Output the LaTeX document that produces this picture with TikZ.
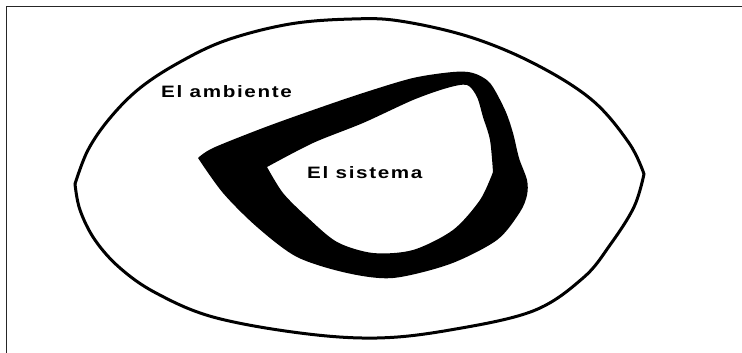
\documentclass[tikz,border=0pt]{standalone}
\usepackage{fontspec}
\setmainfont{Liberation Sans}
\begin{document}
\begin{tikzpicture}[x=1pt,y=-1pt,
  frameline/.style={line width=1.3pt,draw=black!85},
  eyeline/.style={line width=3pt,line join=round,line cap=round},
  lbl/.style={anchor=base west,inner sep=0pt,font=\fontsize{16.5}{18}\selectfont\bfseries}]
\useasboundingbox (0,0) rectangle (742,353);
\fill[white] (0,0) rectangle (742,353);
% frame (top and left edges only)
\coordinate (tl) at (6.5,6.5);
\coordinate (tr) at (742,6.5);
\coordinate (bl) at (6.5,353);
\draw[frameline] (tr) -- (tl) -- (bl);
% outer "environment" curve
\draw[eyeline] plot[smooth,tension=0.6] coordinates {(75,184) (88,150) (110,118) (140,88) (180,62) (227,40) (290,24) (352,19) (400,21) (470,37) (535,64) (592,100) (629,143) (644,174)};
\draw[eyeline] plot[smooth,tension=0.6] coordinates {(644,174) (634,207) (610,245) (583,278) (533,311) (450,330) (377,338) (300,333) (213,317) (156,293) (120,268) (95,240) (80,210) (75,184)};
% black system boundary band
\fill[black,even odd rule]
  plot[smooth,tension=0.5] coordinates {(198,158) (213,148) (263,128) (313,110) (363,93) (413,78) (453,72) (473,73) (490,83) (505,110) (513,133) (519,158) (527,180) (527,195) (520,212) (497,240) (450,264) (393,278) (347,273) (297,257) (257,227) (223,193) (198,158)} -- cycle
  plot[smooth,tension=0.5] coordinates {(267,167) (313,143) (363,123) (413,100) (447,88) (467,85) (477,97) (483,117) (490,140) (493,172)}
  -- plot[smooth,tension=0.5] coordinates {(493,172) (480,200) (453,230) (413,250) (373,253) (337,242) (307,217) (283,193) (267,167)} -- cycle;
% labels
\node[lbl] (amb) at (161,98) {\scalebox{1.25}[1]{\addfontfeature{LetterSpace=8}El ambiente}};
\node[lbl] (sis) at (307,178) {\scalebox{1.25}[1]{\addfontfeature{LetterSpace=8}El sistema}};
\end{tikzpicture}
\end{document}
